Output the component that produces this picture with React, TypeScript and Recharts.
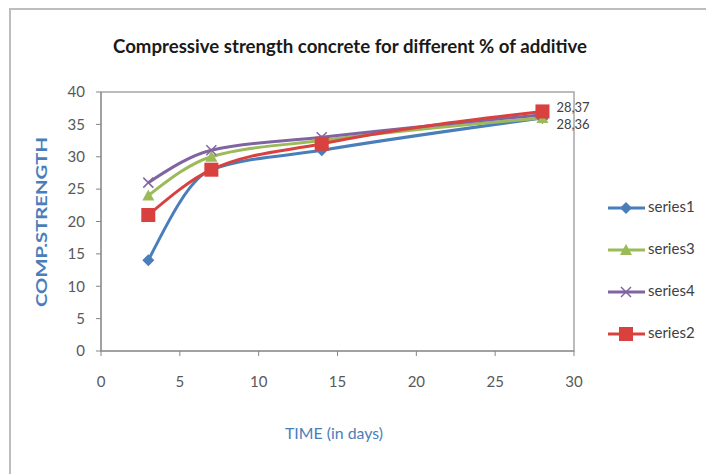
import { LineChart, Line, XAxis, YAxis, ReferenceArea, LabelList } from "recharts";

const days = [3, 7, 14, 28];
const series1 = [14, 28, 31, 36];
const series3 = [24, 30, 32.5, 36];
const series4 = [26, 31, 33, 36.5];
const series2 = [21, 28, 32, 37];
const xTicks = [0, 5, 10, 15, 20, 25, 30];
const yTicks = [0, 5, 10, 15, 20, 25, 30, 35, 40];

const data = days.map((d, i) => ({
  day: d,
  s1: series1[i],
  s3: series3[i],
  s4: series4[i],
  s2: series2[i],
}));

const FONT = "Lato, 'Open Sans', sans-serif";
const BLUE = "#4A7EBB";
const GREEN = "#9BBB59";
const PURPLE = "#8064A2";
const RED = "#D9413F";

const Diamond = ({ cx, cy }: any) => (
  <polygon points={`${cx},${cy - 6} ${cx + 6},${cy} ${cx},${cy + 6} ${cx - 6},${cy}`} fill={BLUE} />
);
const Triangle = ({ cx, cy }: any) => (
  <polygon points={`${cx},${cy - 6} ${cx + 6},${cy + 5} ${cx - 6},${cy + 5}`} fill={GREEN} />
);
const Cross = ({ cx, cy }: any) => (
  <g stroke={PURPLE} strokeWidth={1.5}>
    <line x1={cx - 5} y1={cy - 5} x2={cx + 5} y2={cy + 5} />
    <line x1={cx - 5} y1={cy + 5} x2={cx + 5} y2={cy - 5} />
  </g>
);
const Square = ({ cx, cy }: any) => (
  <rect x={cx - 7} y={cy - 7} width={14} height={14} fill={RED} />
);

const lastLabel = (offsetY: number) => (props: any) => {
  const { x, y, index, value } = props;
  if (index !== days.length - 1) return null;
  return (
    <text x={x + 14} y={y + offsetY} fontSize={13} fontFamily={FONT} fill="#404040" dominantBaseline="middle">
      {`${days[index]},${value}`}
    </text>
  );
};

const legendItems = [
  { name: "series1", color: BLUE, Mark: Diamond },
  { name: "series3", color: GREEN, Mark: Triangle },
  { name: "series4", color: PURPLE, Mark: Cross },
  { name: "series2", color: RED, Mark: Square },
];

export default function App() {
  return (
    <div style={{ position: "absolute", left: 0, top: 0, width: 706, height: 474, background: "#fff" }}>
      <div
        style={{
          position: "absolute",
          left: 9,
          top: 8,
          width: 697,
          height: 466,
          borderLeft: "2px solid #bdbdbd",
          borderTop: "2px solid #bdbdbd",
        }}
      />
      <LineChart
        width={706}
        height={474}
        data={data}
        margin={{ top: 92, right: 132, bottom: 93, left: 41 }}
        style={{ position: "absolute", left: 0, top: 0 }}
      >
        <XAxis
          dataKey="day"
          type="number"
          domain={[0, 30]}
          ticks={xTicks}
          height={30}
          stroke="#868686"
          tickSize={5}
          tickMargin={20}
          tick={{ fill: "#595959", fontSize: 15, fontFamily: FONT }}
        />
        <YAxis
          type="number"
          domain={[0, 40]}
          ticks={yTicks}
          width={60}
          stroke="#868686"
          tickSize={5}
          tickMargin={11}
          tick={{ fill: "#595959", fontSize: 15, fontFamily: FONT }}
        />
        <ReferenceArea x1={0} x2={30} y1={0} y2={40} fill="none" stroke="#a6a6a6" strokeWidth={1.5} />
        <Line
          type="monotone"
          dataKey="s1"
          stroke={BLUE}
          strokeWidth={3}
          dot={<Diamond />}
          isAnimationActive={false}
        />
        <Line
          type="monotone"
          dataKey="s3"
          stroke={GREEN}
          strokeWidth={3}
          dot={<Triangle />}
          isAnimationActive={false}
        >
          <LabelList dataKey="s3" content={lastLabel(8)} />
        </Line>
        <Line
          type="monotone"
          dataKey="s4"
          stroke={PURPLE}
          strokeWidth={3}
          dot={<Cross />}
          isAnimationActive={false}
        />
        <Line
          type="monotone"
          dataKey="s2"
          stroke={RED}
          strokeWidth={3}
          dot={<Square />}
          isAnimationActive={false}
        >
          <LabelList dataKey="s2" content={lastLabel(-3)} />
        </Line>
      </LineChart>
      <svg width={706} height={474} style={{ position: "absolute", left: 0, top: 0, pointerEvents: "none" }}>
        <text
          x={350}
          y={48}
          textAnchor="middle"
          dominantBaseline="middle"
          fontFamily={FONT}
          fontSize={19}
          fontWeight="bold"
          fill="#1a1a1a"
          textLength={474}
          lengthAdjust="spacingAndGlyphs"
        >
          Compressive strength concrete for different % of additive
        </text>
        <text
          x={0}
          y={0}
          transform="translate(43,222) rotate(-90)"
          textAnchor="middle"
          dominantBaseline="middle"
          fontFamily={FONT}
          fontSize={15}
          fontWeight="bold"
          fill={BLUE}
          textLength={170}
          lengthAdjust="spacingAndGlyphs"
        >
          COMP.STRENGTH
        </text>
        <text
          x={334}
          y={435}
          textAnchor="middle"
          dominantBaseline="middle"
          fontFamily={FONT}
          fontSize={15}
          fill={BLUE}
          textLength={98}
          lengthAdjust="spacingAndGlyphs"
        >
          TIME (in days)
        </text>
        {legendItems.map((it, i) => {
          const y = 208 + i * 42;
          const M = it.Mark;
          return (
            <g key={it.name}>
              <line x1={608} y1={y} x2={645} y2={y} stroke={it.color} strokeWidth={3} />
              <M cx={626} cy={y} />
              <text x={648} y={y} dominantBaseline="middle" fontFamily={FONT} fontSize={15} fill="#404040">
                {it.name}
              </text>
            </g>
          );
        })}
      </svg>
    </div>
  );
}
